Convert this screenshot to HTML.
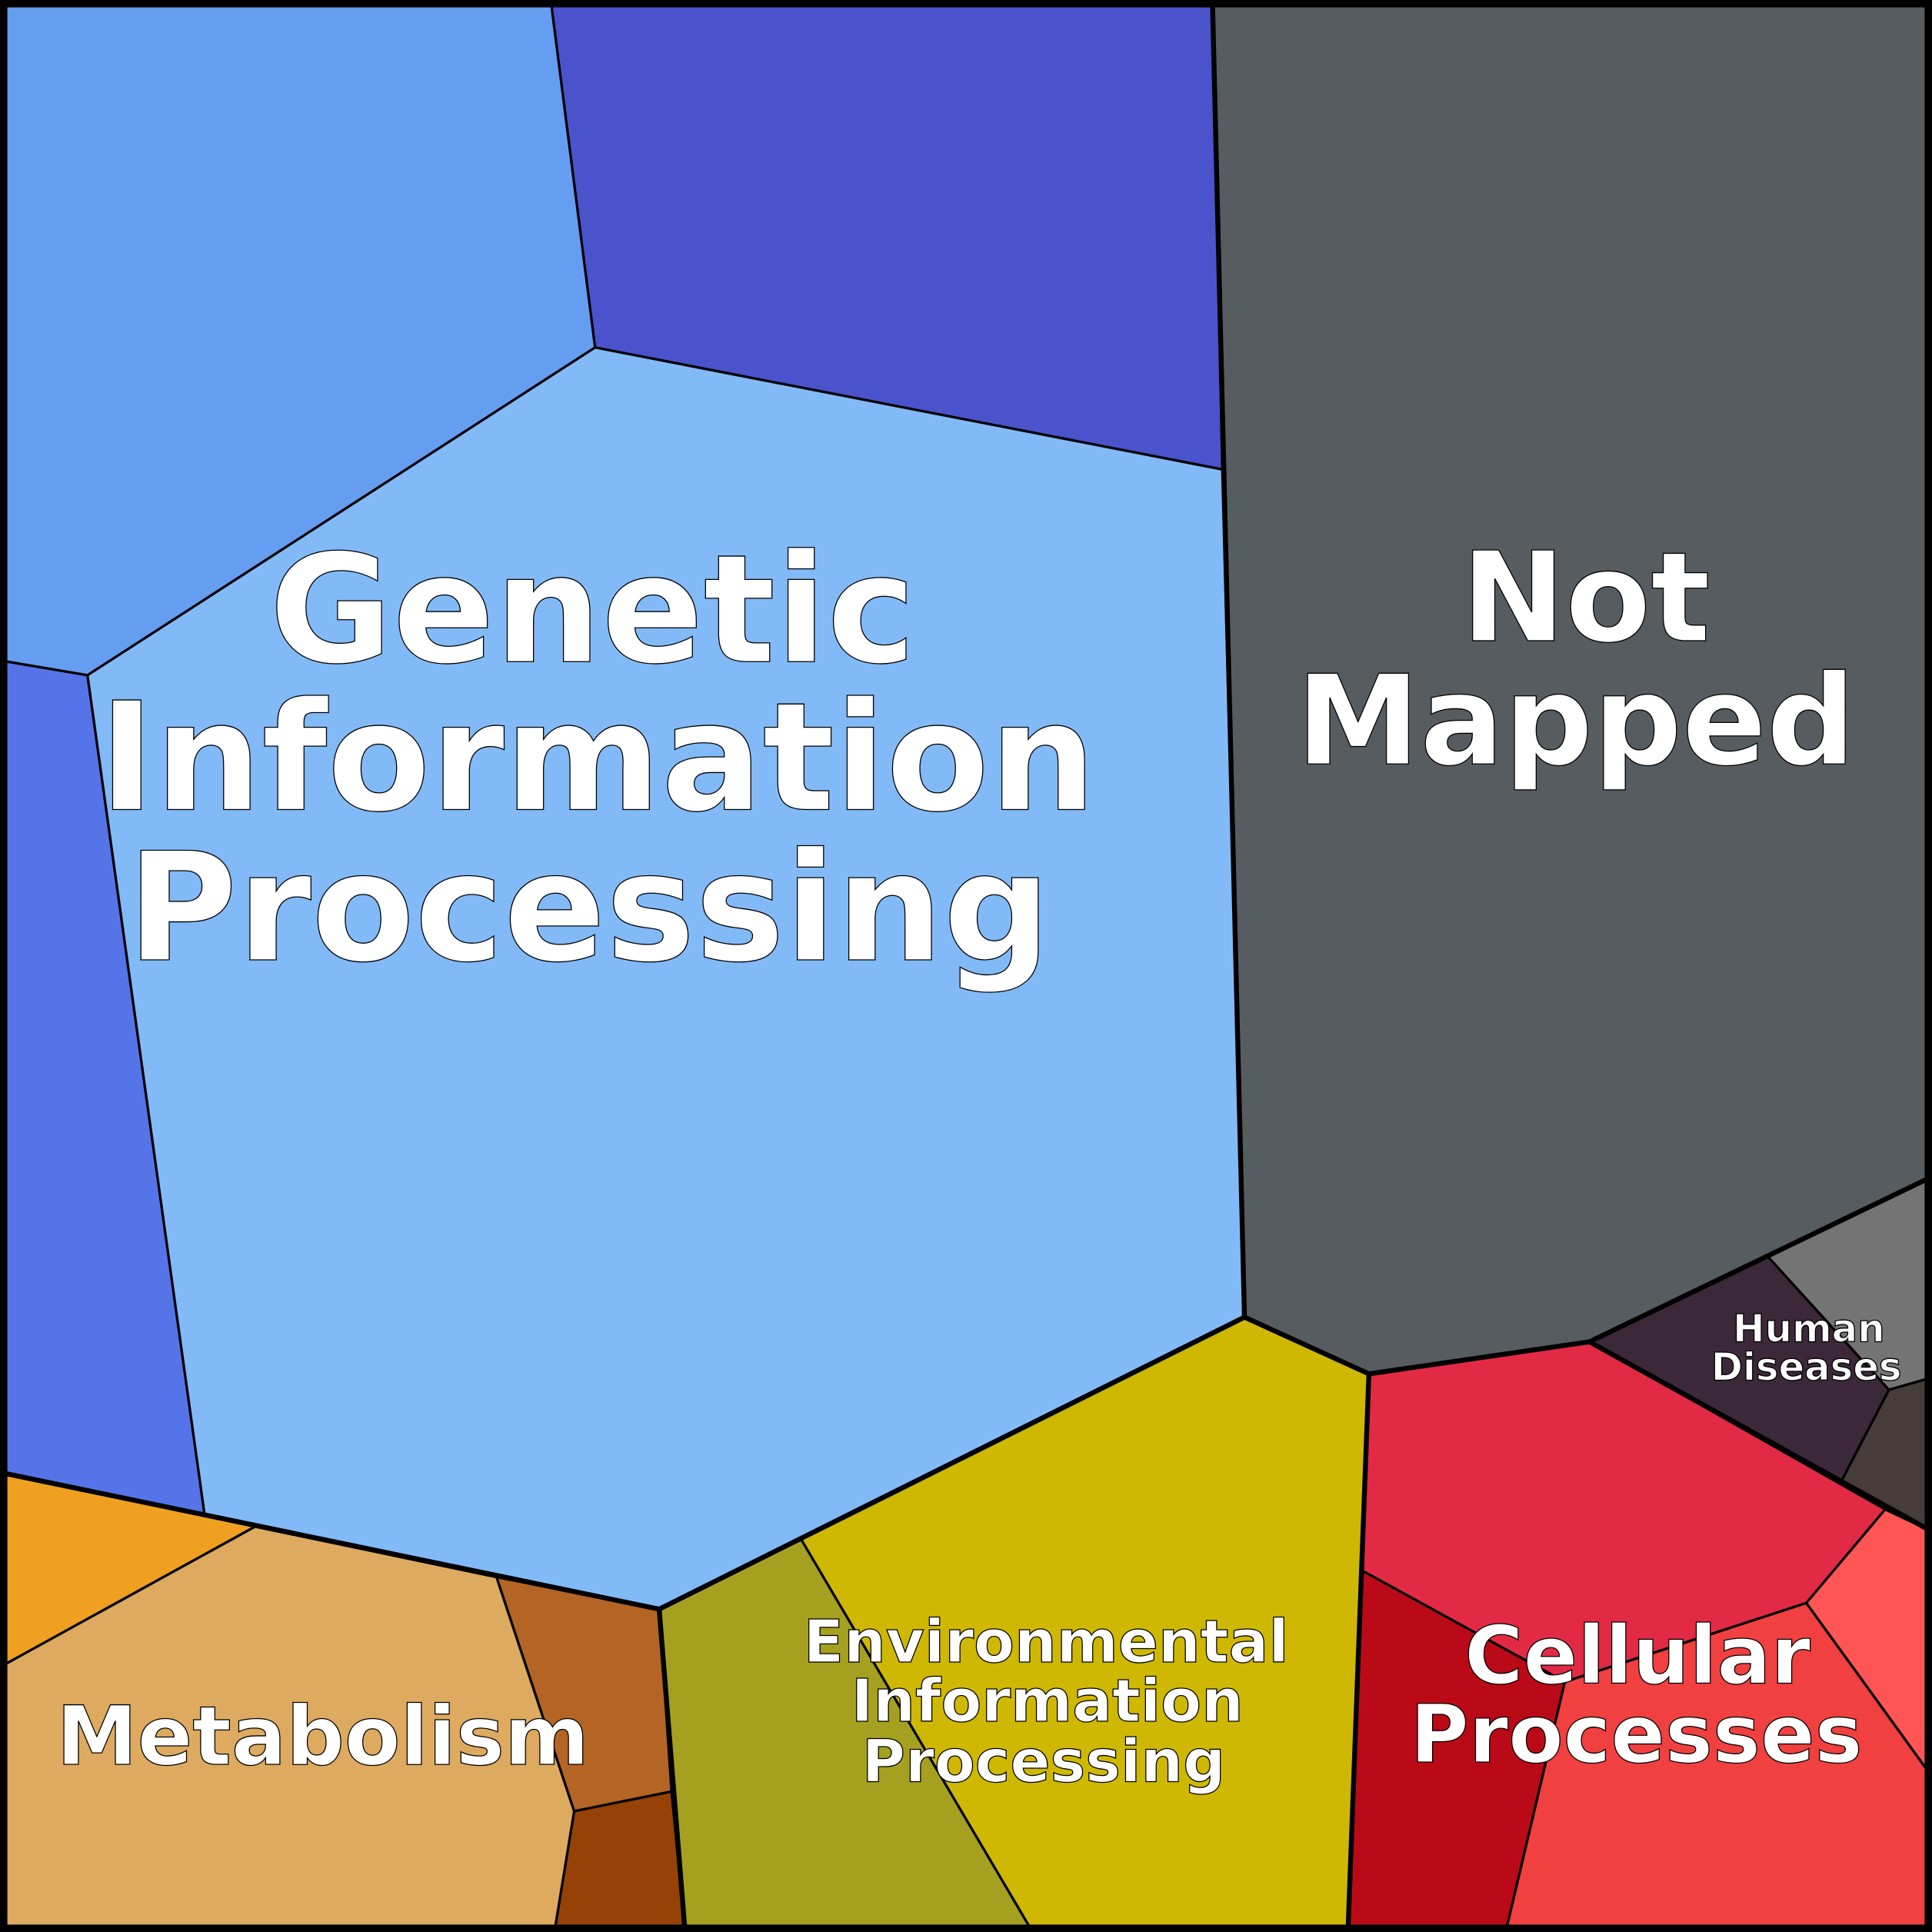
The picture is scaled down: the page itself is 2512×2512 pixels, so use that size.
<!DOCTYPE html>
<html><head><meta charset="utf-8"><style>html,body{margin:0;padding:0;background:#fff}svg{display:block}</style></head>
<body>
<svg width="2512" height="2512" viewBox="0 0 1568 1568" xmlns="http://www.w3.org/2000/svg">
<g stroke="#000" stroke-width="2" stroke-linejoin="round">
<polygon fill="#659EF0" points="0,0 447,0 483,282 71,548 0,536"/>
<polygon fill="#4A53CC" points="447,0 984,0 992,381 483,282"/>
<polygon fill="#5474E8" points="0,536 71,548 166,1229 0,1195"/>
<polygon fill="#82BAF7" points="71,548 483,282 992,381 1010,1069 535,1306 166,1229"/>
<polygon fill="#575C60" points="984,0 1568,0 1568,955 1434,1019 1290,1089 1111,1115 1010,1069"/>
<polygon fill="#747474" points="1568,955 1434,1019 1533,1128 1568,1118"/>
<polygon fill="#3B2838" points="1290,1089 1434,1019 1533,1128 1494,1203"/>
<polygon fill="#463C3A" points="1533,1128 1568,1118 1568,1243 1494,1203"/>
<polygon fill="#E22A45" points="1111,1115 1290,1089 1530,1225 1466,1301 1270,1365 1106,1275"/>
<polygon fill="#FF5555" points="1530,1225 1568,1243 1568,1442 1466,1301"/>
<polygon fill="#BB0A17" points="1106,1275 1270,1365 1222,1568 1094,1568"/>
<polygon fill="#F04040" points="1270,1365 1466,1301 1568,1442 1568,1568 1222,1568"/>
<polygon fill="#CFB803" points="535,1306 1010,1069 1111,1115 1094,1568 838,1568 650,1249"/>
<polygon fill="#A5A020" points="535,1306 650,1249 838,1568 556,1568"/>
<polygon fill="#F0A020" points="0,1195 207,1239 0,1353"/>
<polygon fill="#DDAA60" points="0,1353 207,1239 403,1280 466,1470 450,1568 0,1568"/>
<polygon fill="#B46424" points="403,1280 535,1306 545,1454 466,1470"/>
<polygon fill="#964206" points="466,1470 545,1454 556,1568 450,1568"/>
</g>
<g stroke="#000" stroke-width="4" fill="none" stroke-linejoin="round">
<polyline points="0,1195 535,1306 556,1568"/>
<polyline points="535,1306 1010,1069 1111,1115 1094,1568"/>
<polyline points="984,0 1010,1069"/>
<polyline points="1111,1115 1290,1089 1568,1243"/>
<polyline points="1290,1089 1568,955"/>
<rect x="3" y="3" width="1562" height="1562" stroke-width="6"/>
</g>
<g font-family="'DejaVu Sans','Liberation Sans',sans-serif" font-weight="bold" fill="#fff" stroke="#000" stroke-width="0.8" text-anchor="middle">
<text x="481" y="537" font-size="122">Genetic</text>
<text x="485" y="657" font-size="122">Information</text>
<text x="478" y="779" font-size="122">Processing</text>
<text x="1287" y="520" font-size="101">Not</text>
<text x="1279" y="620" font-size="101">Mapped</text>
<text x="262" y="1432" font-size="66">Metabolism</text>
<text x="849" y="1349" font-size="48">Environmental</text>
<text x="850" y="1397" font-size="48">Information</text>
<text x="847" y="1446" font-size="48">Processing</text>
<text x="1329" y="1366" font-size="65">Cellular</text>
<text x="1328" y="1430" font-size="65">Processes</text>
<text x="1468" y="1089" font-size="31">Human</text>
<text x="1466" y="1120" font-size="31">Diseases</text>
</g>
</svg>
</body></html>
